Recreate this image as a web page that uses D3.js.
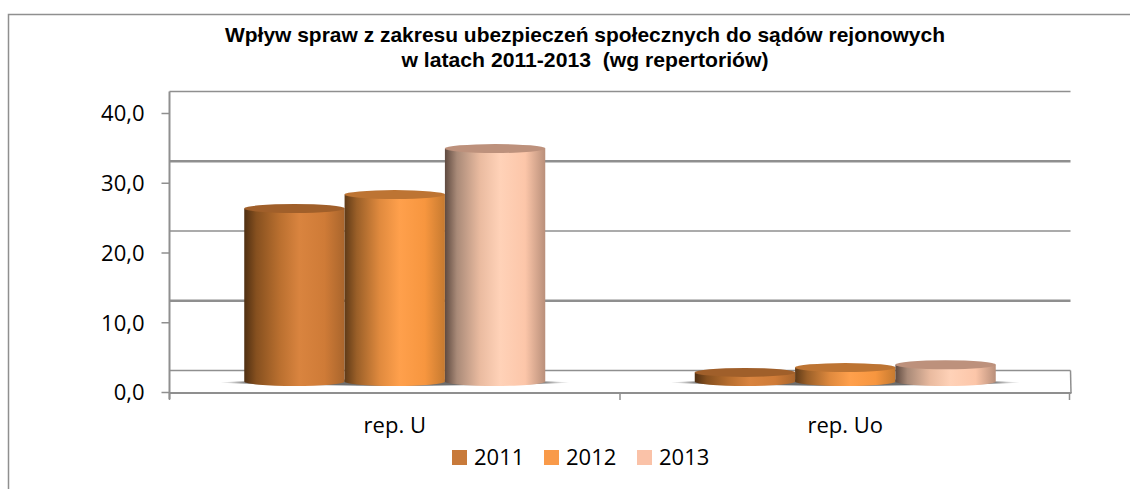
<!DOCTYPE html>
<html><head><meta charset="utf-8">
<script src="https://cdn.jsdelivr.net/npm/d3@7/dist/d3.min.js"></script>
<style>html,body{margin:0;padding:0;background:#fff;overflow:hidden}svg{display:block}</style>
</head><body><svg id="c" width="1130" height="489"></svg>
<script>
const titleLines = ["Wpływ spraw z zakresu ubezpieczeń społecznych do sądów rejonowych","w latach 2011-2013  (wg repertoriów)"];
const categories = ["rep. U","rep. Uo"];
const seriesNames = ["2011","2012","2013"];
const values2011 = [24.8,1.3];
const values2012 = [26.8,2.0];
const values2013 = [33.4,2.4];
const yTicks = [0,10,20,30,40];
const seriesValues = [values2011,values2012,values2013];
const sideStops = [
 [["0%","#4f2f12"],["12%","#86501f"],["35%","#b96f2f"],["55%","#d9843f"],["80%","#cf7b37"],["100%","#a9652c"]],
 [["0%","#5f3a17"],["12%","#9a5f28"],["35%","#e08a3e"],["55%","#ffa04c"],["80%","#f7963f"],["100%","#c67a30"]],
 [["0%","#5f4a40"],["12%","#a98a78"],["35%","#eabba0"],["55%","#ffd2b8"],["80%","#fcc6a9"],["100%","#b98f7a"]]
];
const topColors = ["#a05f2a","#bd7433","#bd917c"];
const legendColors = ["#c87a3a","#f99a49","#fac2a8"];
const labelFont = "'Open Sans'";

const svg = d3.select("#c");
const left=169.5,right=1070.5,floorY=393;
const depth=21.5, baseY=381.5, ry=4.5;
const y=d3.scaleLinear().domain([0,40]).range([392,113]);
const h=d3.scaleLinear().domain([0,40]).range([0,279]);
const x0=d3.scaleBand().domain(categories).range([left,right]);
const x1=d3.scaleBand().domain(seriesNames).range([0,x0.bandwidth()]).paddingOuter(0.745).paddingInner(0);
const grey="#8f8f8f";

const defs=svg.append("defs");
sideStops.forEach((st,i)=>{
 const g=defs.append("linearGradient").attr("id","side"+i);
 st.forEach(s=>g.append("stop").attr("offset",s[0]).attr("stop-color",s[1]));
});
const sh=defs.append("radialGradient").attr("id","shadow");
sh.append("stop").attr("offset","84%").attr("stop-color","#666").attr("stop-opacity",.95);
sh.append("stop").attr("offset","100%").attr("stop-color","#999").attr("stop-opacity",0);

// outer frame: top and left edges only, the rest runs out of the picture
svg.append("path").attr("d","M1130,14.5H8.5V489").attr("fill","none").attr("stroke",grey).attr("stroke-width",1.5);

// title
svg.append("g").selectAll("text").data(titleLines).join("text")
 .attr("x",585).attr("y",(d,i)=>42+i*25)
 .attr("text-anchor","middle").attr("font-family","Liberation Sans").attr("font-weight","bold")
 .attr("font-size",21).attr("fill","#000").attr("textLength",(d,i)=>i?367:720).attr("lengthAdjust","spacingAndGlyphs")
 .style("white-space","pre").text(d=>d);

// back wall gridlines
svg.append("g").selectAll("line").data(yTicks).join("line")
 .attr("x1",left).attr("x2",right)
 .attr("y1",d=>y(d)-depth).attr("y2",d=>y(d)-depth)
 .attr("stroke",grey).attr("stroke-width",d=>(d===10||d===30)?2.4:1.7);
svg.append("line").attr("x1",left).attr("x2",left).attr("y1",y(40)-depth).attr("y2",floorY+6)
 .attr("stroke",grey).attr("stroke-width",2);
svg.append("line").attr("x1",left).attr("x2",right+1).attr("y1",floorY).attr("y2",floorY)
 .attr("stroke",grey).attr("stroke-width",1.8);
svg.append("line").attr("x1",right).attr("x2",right+0.5).attr("y1",y(0)-depth).attr("y2",floorY)
 .attr("stroke",grey).attr("stroke-width",1.5);

// y axis
const ya=d3.axisLeft(y).tickValues(yTicks).tickSize(8).tickPadding(17).tickFormat(d=>d3.format(".1f")(d).replace(".",","));
const yg=svg.append("g").attr("transform",`translate(${left},0)`).call(ya);
yg.select(".domain").remove();
yg.selectAll("line").attr("stroke",grey).attr("stroke-width",1.5);
yg.selectAll("text").style("font-family",labelFont).style("font-size","22px").attr("dy","0.36em").attr("fill","#000");

// x axis ticks and labels
svg.append("g").selectAll("line").data([...categories.map(c=>x0(c)),right-1]).join("line")
 .attr("x1",d=>d).attr("x2",d=>d).attr("y1",floorY).attr("y2",floorY+7)
 .attr("stroke",grey).attr("stroke-width",1.5);
svg.append("g").selectAll("text").data(categories).join("text")
 .attr("x",c=>x0(c)+x0.bandwidth()/2).attr("y",433).attr("text-anchor","middle")
 .style("font-family",labelFont).style("font-size","22px").attr("fill","#000").text(c=>c);

// bars
categories.forEach((c,ci)=>{
 const g=svg.append("g").attr("transform",`translate(${x0(c)},0)`);
 const w=x1.bandwidth();
 g.append("ellipse").attr("cx",x0.bandwidth()/2).attr("cy",baseY+1).attr("rx",w*1.5+24).attr("ry",3.5)
  .attr("fill","url(#shadow)");
 seriesNames.forEach((s,si)=>{
  const v=seriesValues[si][ci], xl=x1(s), rx=w/2, top=baseY-h(v);
  g.append("path").attr("fill",`url(#side${si})`)
   .attr("d",`M${xl},${top}V${baseY}A${rx},${ry} 0 0 0 ${xl+w},${baseY}V${top}Z`);
  g.append("ellipse").attr("cx",xl+rx).attr("cy",top).attr("rx",rx).attr("ry",ry).attr("fill",topColors[si]);
 });
});

// legend
const legendX=[452,544,637], lx=d3.scaleOrdinal().domain(seriesNames).range(legendX);
const lg=svg.append("g").selectAll("g").data(seriesNames).join("g").attr("transform",s=>`translate(${lx(s)},450)`);
lg.append("rect").attr("width",15).attr("height",15).attr("fill",(s,i)=>legendColors[i]);
lg.append("text").attr("x",22).attr("y",15).style("font-family",labelFont).style("font-size","22px").attr("fill","#000").text(s=>s);
</script></body></html>
